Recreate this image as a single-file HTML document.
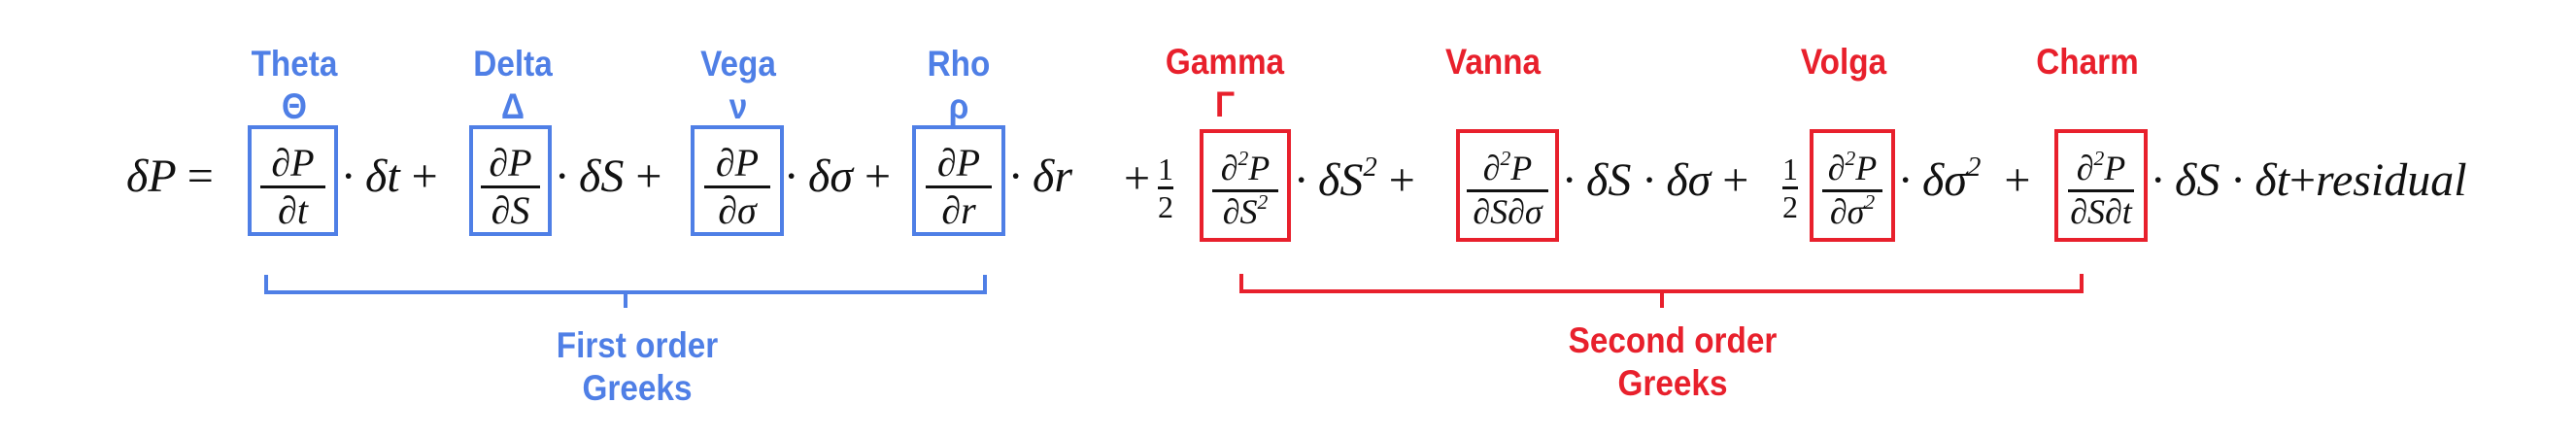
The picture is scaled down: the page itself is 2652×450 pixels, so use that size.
<!DOCTYPE html>
<html><head><meta charset="utf-8"><style>
body{margin:0;width:2652px;height:450px;background:#fff;overflow:hidden;position:relative;font-family:"Liberation Serif",serif;}
.a{position:absolute;white-space:nowrap;line-height:1;}
.m{font-size:48px;font-style:italic;color:#111;}
.r{font-style:normal;}
.lb{font-family:"Liberation Sans",sans-serif;font-weight:bold;font-size:37px;text-align:center;transform:translateX(-50%) scaleX(0.9);line-height:1.2;}
.bl{color:#4f7fe6;} .rd{color:#e8202c;}
.box{position:absolute;box-sizing:border-box;border:4px solid;}
.bbox{border-color:#4f7fe6;} .rbox{border-color:#e8202c;}
.frac{position:absolute;left:0;right:0;display:flex;flex-direction:column;align-items:center;font-style:italic;color:#111;line-height:1.05;}
.frac span{white-space:nowrap;}
.bar{height:3px;background:#111;width:78%;margin:2px 0;}
.half{position:absolute;display:flex;flex-direction:column;align-items:center;font-size:32px;color:#111;line-height:1;}
.half .bar{width:100%;}
sup{font-size:60%;vertical-align:0.7em;line-height:0;}
.br{position:absolute;box-sizing:border-box;border-width:0 4px 4px 4px;border-style:solid;}
.tip{position:absolute;width:4px;}
</style></head><body>
<div class="a lb bl" style="left:303px;top:44px">Theta<br>Θ</div>
<div class="a lb bl" style="left:528px;top:44px">Delta<br>Δ</div>
<div class="a lb bl" style="left:760px;top:44px">Vega<br>ν</div>
<div class="a lb bl" style="left:987px;top:44px">Rho<br>ρ</div>
<div class="a lb rd" style="left:1261px;top:42px">Gamma<br>Γ</div>
<div class="a lb rd" style="left:1537px;top:42px">Vanna</div>
<div class="a lb rd" style="left:1898px;top:42px">Volga</div>
<div class="a lb rd" style="left:2149px;top:42px">Charm</div>

<div class="a m" style="left:130px;top:158px">δP <span class="r">=</span></div>
<div class="box bbox" style="left:255px;top:129px;width:93px;height:114px"><div class="frac" style="top:14px;font-size:40px"><span>∂P</span><div class="bar"></div><span>∂t</span></div></div>
<div class="a m" style="left:352px;top:158px">· δt <span class="r">+</span></div>
<div class="box bbox" style="left:483px;top:129px;width:85px;height:114px"><div class="frac" style="top:14px;font-size:40px"><span>∂P</span><div class="bar"></div><span>∂S</span></div></div>
<div class="a m" style="left:572px;top:158px">· δS <span class="r">+</span></div>
<div class="box bbox" style="left:711px;top:129px;width:96px;height:114px"><div class="frac" style="top:14px;font-size:40px"><span>∂P</span><div class="bar"></div><span>∂σ</span></div></div>
<div class="a m" style="left:808px;top:158px">· δσ <span class="r">+</span></div>
<div class="box bbox" style="left:939px;top:129px;width:96px;height:114px"><div class="frac" style="top:14px;font-size:40px"><span>∂P</span><div class="bar"></div><span>∂r</span></div></div>
<div class="a m" style="left:1039px;top:158px">· δr</div>

<div class="a m r" style="left:1157px;top:160px">+</div>
<div class="half" style="left:1192px;top:158px">1<div class="bar"></div>2</div>
<div class="box rbox" style="left:1235px;top:133px;width:94px;height:116px"><div class="frac" style="top:18px;font-size:36px"><span>∂<sup>2</sup>P</span><div class="bar"></div><span>∂S<sup>2</sup></span></div></div>
<div class="a m" style="left:1333px;top:162px">· δS<sup>2</sup> <span class="r">+</span></div>
<div class="box rbox" style="left:1499px;top:133px;width:106px;height:116px"><div class="frac" style="top:18px;font-size:36px"><span>∂<sup>2</sup>P</span><div class="bar" style="width:86%"></div><span>∂S∂σ</span></div></div>
<div class="a m" style="left:1609px;top:162px">· δS · δσ <span class="r">+</span></div>
<div class="half" style="left:1835px;top:158px">1<div class="bar"></div>2</div>
<div class="box rbox" style="left:1863px;top:133px;width:88px;height:116px"><div class="frac" style="top:18px;font-size:36px"><span>∂<sup>2</sup>P</span><div class="bar"></div><span>∂σ<sup>2</sup></span></div></div>
<div class="a m" style="left:1955px;top:162px">· δσ<sup>2</sup> &nbsp;<span class="r">+</span></div>
<div class="box rbox" style="left:2115px;top:133px;width:96px;height:116px"><div class="frac" style="top:18px;font-size:36px"><span>∂<sup>2</sup>P</span><div class="bar"></div><span>∂S∂t</span></div></div>
<div class="a m" style="left:2215px;top:162px">· δS · δt<span class="r">+</span>residual</div>

<div class="br" style="left:272px;top:283px;width:744px;height:20px;border-color:#4f7fe6"></div>
<div class="tip" style="left:642px;top:299px;height:18px;background:#4f7fe6"></div>
<div class="br" style="left:1276px;top:282px;width:869px;height:20px;border-color:#e8202c"></div>
<div class="tip" style="left:1709px;top:298px;height:19px;background:#e8202c"></div>

<div class="a lb bl" style="left:656px;top:334px">First order<br>Greeks</div>
<div class="a lb rd" style="left:1722px;top:329px">Second order<br>Greeks</div>
</body></html>
